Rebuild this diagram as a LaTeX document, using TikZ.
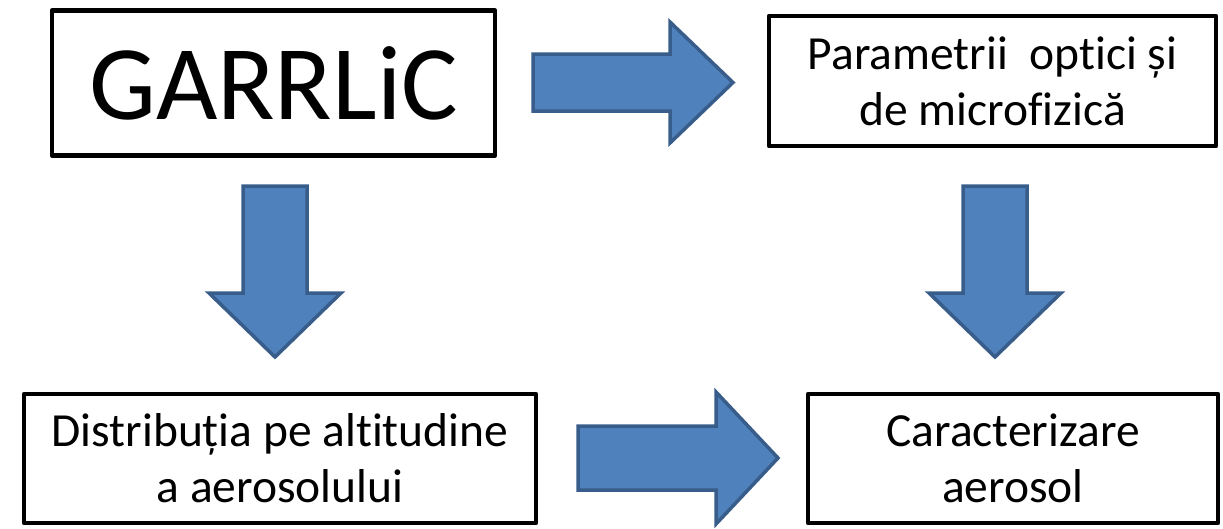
\documentclass[tikz,border=0pt]{standalone}
\usepackage{fontspec}
\setmainfont[Ligatures=NoCommon, Contextuals=NoAlternate, RawFeature={-liga;-clig}]{Carlito}
\definecolor{arrowfill}{HTML}{4F81BD}
\definecolor{arrowline}{HTML}{385D8A}
\begin{document}
\begin{tikzpicture}[x=1pt,y=-1pt,
  box/.style={draw=black, line width=4.5pt, line join=round, fill=white,
    align=center, inner sep=0pt},
  boxtext/.style={font=\fontsize{47.5}{56}\selectfont},
  blockarrow/.style={fill=arrowfill, draw=arrowline, line width=3.5pt, line join=miter}]
  \useasboundingbox (0,0) rectangle (1223,528);

  % boxes
  \node[box, minimum width=443pt, minimum height=145pt, font=\fontsize{106}{110}\selectfont]
    (garrlic) at (273.5,83) {GARRLiC};
  \node[box, boxtext, minimum width=447pt, minimum height=130pt]
    (optic) at (992.5,81) {Parametrii\ \ optici și\\de microf\kern0pt izică};
  \node[box, boxtext, minimum width=512pt, minimum height=129pt]
    (distrib) at (280,458.5) {Distribuția pe alt\kern0pt it\kern0pt udine\\a aerosolului};
  \node[box, boxtext, minimum width=410pt, minimum height=129pt]
    (caract) at (1013,458.5) {Caracterizare\\aerosol};

  % block arrows: right (GARRLiC -> optic)
  \draw[blockarrow] (533,54) -- (670,54) -- (670,22) -- (733,82.5) -- (670,143)
    -- (670,111) -- (533,111) -- cycle;
  % down (GARRLiC -> distrib)
  \draw[blockarrow] (243,186) -- (307,186) -- (307,293) -- (341,293) -- (275,357)
    -- (209,293) -- (243,293) -- cycle;
  % down (optic -> caract)
  \draw[blockarrow] (963,186) -- (1027,186) -- (1027,293) -- (1061,293) -- (995,357)
    -- (929,293) -- (963,293) -- cycle;
  % right (distrib -> caract)
  \draw[blockarrow] (578,426) -- (716,426) -- (716,392) -- (778,458) -- (716,524)
    -- (716,490) -- (578,490) -- cycle;
\end{tikzpicture}
\end{document}
